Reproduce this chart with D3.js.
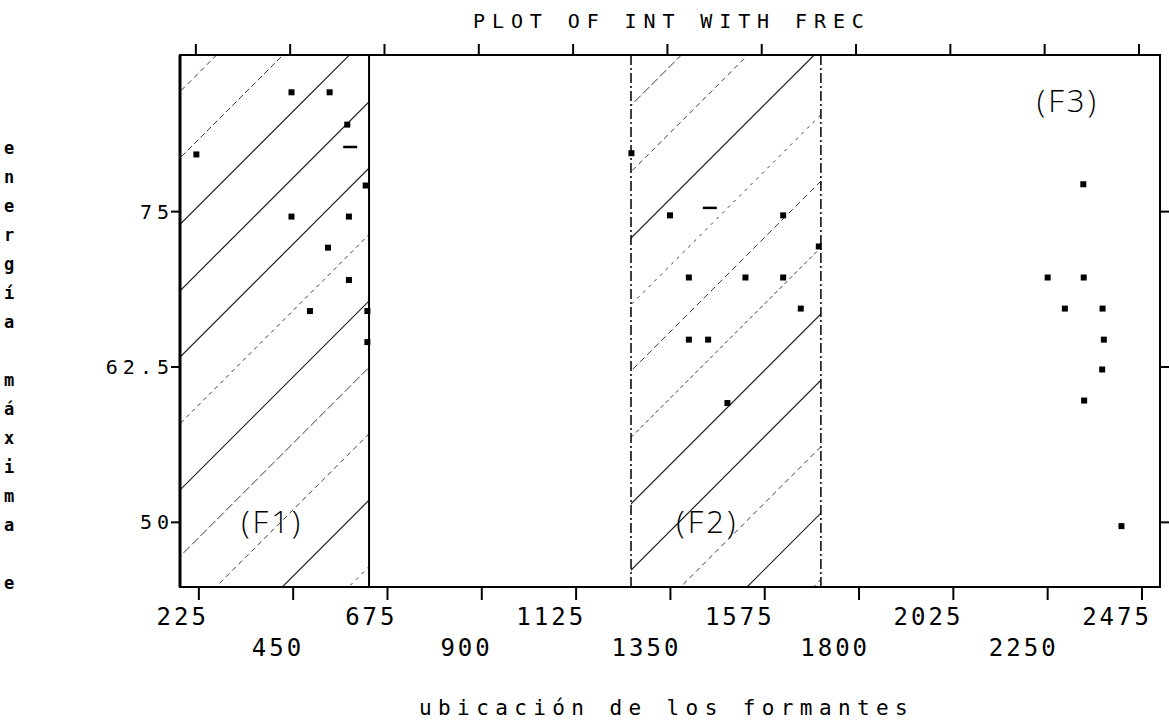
<!DOCTYPE html>
<html>
<head>
<meta charset="utf-8">
<script src="https://cdn.jsdelivr.net/npm/d3@7"></script>
<style>
  html, body { margin: 0; padding: 0; background: #fff; }
  svg { display: block; }
</style>
</head>
<body>
<svg id="chart" width="1169" height="722"></svg>
<script>
// ---------------- data ----------------
const chartTitle = "PLOT OF INT WITH FREC";
const xTitle = "ubicación de los formantes";
const yTitle = "energía máxima e";
const xTicksRow1 = [225, 675, 1125, 1575, 2025, 2475];
const xTicksRow2 = [450, 900, 1350, 1800, 2250];
const yTicks = [50, 62.5, 75];
const yTickLabels = ["50", "62.5", "75"];

// formant 1 points
const f1Freq = [219, 446, 537, 579, 623, 446, 583, 533, 583, 490, 627, 627];
const f1Int  = [79.6, 84.6, 84.6, 82.0, 77.1, 74.6, 74.6, 72.1, 69.5, 67.0, 67.0, 64.5];
// formant 2 points
const f2Freq = [1257, 1349, 1619, 1704, 1394, 1529, 1619, 1661, 1394, 1440, 1486];
const f2Int  = [79.7, 74.7, 74.7, 72.2, 69.7, 69.7, 69.7, 67.2, 64.7, 64.7, 59.6];
// formant 3 points
const f3Freq = [2335, 2250, 2336, 2291, 2381, 2384, 2380, 2337, 2426];
const f3Int  = [77.2, 69.7, 69.7, 67.2, 67.2, 64.7, 62.3, 59.8, 49.7];
// overlapping-point dashes
const dashFreq = [586, 1444];
const dashInt  = [80.2, 75.3];
// hatched formant bands (frequency ranges)
const bandNames = ["F1", "F2"];
const bandStart = [180, 1256];
const bandEnd   = [631, 1709];
// hand-written band labels
const noteText = ["(F1)", "(F2)", "(F3)"];
const noteFreq = [400, 1438, 2298];
const noteInt  = [50.0, 50.0, 83.9];

// ---------------- layout ----------------
const svg = d3.select("#chart");
const pL = 180, pR = 1160, pT = 55, pB = 587;
const x = d3.scaleLinear().domain([180, 2518]).range([pL, pR]);
const y = d3.scaleLinear().domain([44.8, 87.6]).range([pB, pT]);
const mono = "'DejaVu Sans Mono', 'Liberation Mono', monospace";

// hatching
const defs = svg.append("defs");
bandNames.forEach((n, i) => {
  defs.append("clipPath").attr("id", "clip" + n)
    .append("rect")
    .attr("x", x(bandStart[i])).attr("y", pT)
    .attr("width", x(bandEnd[i]) - x(bandStart[i]))
    .attr("height", pB - pT);
});
const hatchC0 = 271.6, hatchStep = 66.4;
const hatchDash = ["5,4", "6,3", null, null, null, "4,4", null, "9,3", "5,4", null, "3,5", "6,4", "4,3", null, null, "5,4", null, "4,4"];
bandNames.forEach((n, i) => {
  const g = svg.append("g").attr("clip-path", `url(#clip${n})`);
  const x0 = x(bandStart[i]), x1 = x(bandEnd[i]);
  for (let k = 0; k < 18; k++) {
    const c = hatchC0 + k * hatchStep;
    const l = g.append("line")
      .attr("x1", x0 - 5).attr("y1", c - (x0 - 5))
      .attr("x2", x1 + 5).attr("y2", c - (x1 + 5))
      .attr("stroke", "#222")
      .attr("stroke-width", hatchDash[k] ? 0.9 : 1.2);
    if (hatchDash[k]) l.attr("stroke-dasharray", hatchDash[k]);
  }
});

// band edges
svg.append("line")
  .attr("x1", x(bandEnd[0])).attr("x2", x(bandEnd[0]))
  .attr("y1", pT).attr("y2", pB)
  .attr("stroke", "#000").attr("stroke-width", 2);
[bandStart[1], bandEnd[1]].forEach(v => {
  svg.append("line")
    .attr("x1", x(v)).attr("x2", x(v))
    .attr("y1", pT).attr("y2", pB)
    .attr("stroke", "#000").attr("stroke-width", 1.5)
    .attr("stroke-dasharray", "10,3,2,3");
});

// frame
svg.append("rect")
  .attr("x", pL).attr("y", pT)
  .attr("width", pR - pL).attr("height", pB - pT)
  .attr("fill", "none").attr("stroke", "#000").attr("stroke-width", 2);
svg.append("line").attr("x1", pL).attr("x2", pL).attr("y1", pT).attr("y2", pB)
  .attr("stroke", "#000").attr("stroke-width", 3);

// x ticks (top and bottom)
const allX = xTicksRow1.concat(xTicksRow2);
allX.forEach(v => {
  svg.append("line").attr("x1", x(v)).attr("x2", x(v))
    .attr("y1", pB).attr("y2", pB + 13)
    .attr("stroke", "#000").attr("stroke-width", 2);
  svg.append("line").attr("x1", x(v) - 3).attr("x2", x(v) - 3)
    .attr("y1", pT).attr("y2", pT - 11)
    .attr("stroke", "#000").attr("stroke-width", 2);
});
const tickFont = { size: 24, ls: 3 };
xTicksRow1.forEach(v => {
  svg.append("text").attr("x", x(v) + 7 + tickFont.ls).attr("y", 625)
    .attr("text-anchor", "end").attr("font-family", mono)
    .attr("font-size", tickFont.size).attr("letter-spacing", tickFont.ls).text(v);
});
xTicksRow2.forEach(v => {
  svg.append("text").attr("x", x(v) + 8 + tickFont.ls).attr("y", 656)
    .attr("text-anchor", "end").attr("font-family", mono)
    .attr("font-size", tickFont.size).attr("letter-spacing", tickFont.ls).text(v);
});

// y ticks
yTicks.forEach((v, i) => {
  svg.append("line").attr("x1", pL - 9).attr("x2", pL)
    .attr("y1", y(v)).attr("y2", y(v))
    .attr("stroke", "#000").attr("stroke-width", 2);
  svg.append("line").attr("x1", pR).attr("x2", pR + 9)
    .attr("y1", y(v)).attr("y2", y(v))
    .attr("stroke", "#000").attr("stroke-width", 2);
  svg.append("text").attr("x", pL - 11 + 5).attr("y", y(v) + 7)
    .attr("text-anchor", "end").attr("font-family", mono)
    .attr("font-size", 20).attr("letter-spacing", 5).text(yTickLabels[i]);
});

// points
const pts = [];
f1Freq.forEach((f, i) => pts.push([f, f1Int[i]]));
f2Freq.forEach((f, i) => pts.push([f, f2Int[i]]));
f3Freq.forEach((f, i) => pts.push([f, f3Int[i]]));
svg.append("g").selectAll("rect").data(pts).join("rect")
  .attr("x", d => x(d[0]) - 3).attr("y", d => y(d[1]) - 3)
  .attr("width", 6).attr("height", 6).attr("fill", "#000");
dashFreq.forEach((f, i) => {
  svg.append("line").attr("x1", x(f) - 7).attr("x2", x(f) + 7)
    .attr("y1", y(dashInt[i])).attr("y2", y(dashInt[i]))
    .attr("stroke", "#000").attr("stroke-width", 2.5);
});

// notes
noteText.forEach((t, i) => {
  svg.append("text").attr("x", x(noteFreq[i])).attr("y", y(noteInt[i]) + 11)
    .attr("text-anchor", "middle")
    .attr("font-family", "'Open Sans', Lato, sans-serif")
    .attr("font-weight", 300).attr("font-size", 31)
    .attr("letter-spacing", 3).text(t);
});

// titles
svg.append("text").attr("x", 473).attr("y", 28)
  .attr("font-family", mono)
  .attr("font-size", 20).attr("letter-spacing", 6.9).text(chartTitle);
svg.append("text").attr("x", 419).attr("y", 715)
  .attr("font-family", mono)
  .attr("font-size", 21).attr("letter-spacing", 6.4).text(xTitle);
Array.from(yTitle).forEach((ch, i) => {
  svg.append("text").attr("x", 9).attr("y", 154 + i * 29)
    .attr("text-anchor", "middle").attr("font-family", mono)
    .attr("font-weight", "bold")
    .attr("font-size", 17).text(ch);
});
</script>
</body>
</html>
